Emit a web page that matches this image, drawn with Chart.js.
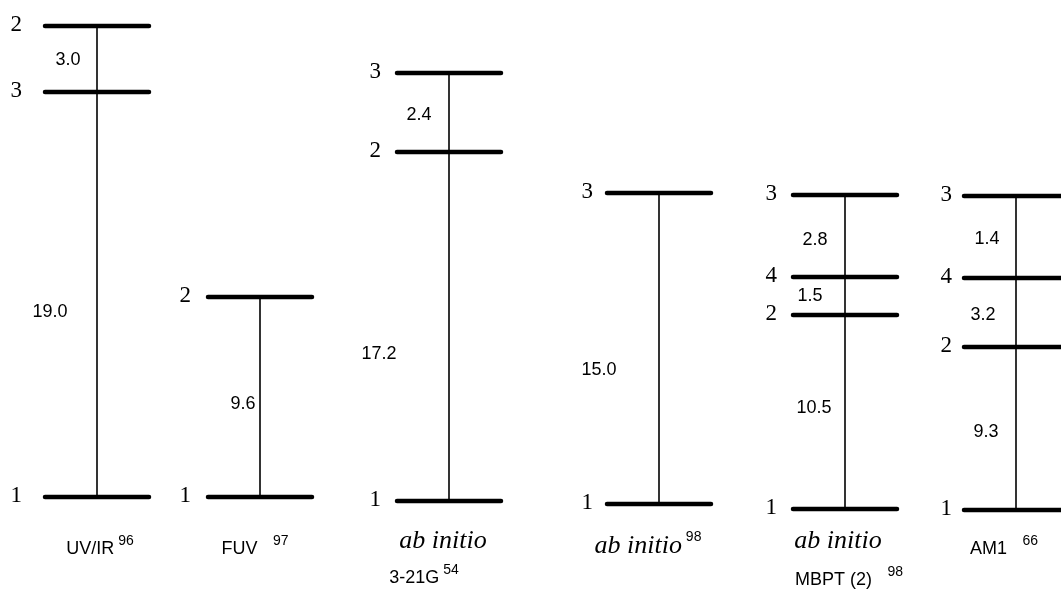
<!DOCTYPE html>
<html lang="en">
<head>
    <meta charset="UTF-8">
    <title>Energy levels</title>
    <style>
        body { margin: 0; padding: 0; background: #fff; }
        .wrap { width: 1061px; height: 594px; position: relative; }
    </style>
    <script src="https://cdn.jsdelivr.net/npm/chart.js"></script>
</head>
<body>
    <div class="wrap"><canvas id="levels"></canvas></div>

    <script>
        // data (heights are diagram units, bottom to top)
        const methods = ['UV/IR', 'FUV', 'ab initio 3-21G', 'ab initio', 'ab initio MBPT (2)', 'AM1'];
        const refs = ['96', '97', '54', '98', '98', '66'];
        const levelStates = [[1, 3, 2], [1, 2], [1, 2, 3], [1, 3], [1, 2, 4, 3], [1, 2, 4, 3]];
        const levelHeights = [
            [4.90, 25.35, 28.69],
            [4.90, 15.00],
            [4.70, 22.32, 26.31],
            [4.55, 20.25],
            [4.29, 14.09, 16.01, 20.15],
            [4.24, 12.47, 15.96, 20.10]
        ];
        const gapValues = [['19.0', '3.0'], ['9.6'], ['17.2', '2.4'], ['15.0'], ['10.5', '1.5', '2.8'], ['9.3', '3.2', '1.4']];

        // layout only
        const colCenter = [97, 260, 449, 659, 845, 1016];
        const halfWidth = 52;
        const numGap = [23, 17, 16, 14, 16, 12];
        const gapDx = [[-47, -29], [-17], [-70, -30], [-60], [-31, -35, -30], [-30, -33, -29]];
        const gapDy = [[18, 1], [7], [28, 2], [22], [-4, 0, 4], [3, 2, 2]];

        const SERIF = '"Liberation Serif", "DejaVu Serif", serif';
        const SANS = '"Liberation Sans", Arial, sans-serif';

        const datasets = [];
        levelHeights.forEach((col, i) => {
            const c = colCenter[i];
            datasets.push({
                data: [{ x: c, y: col[0] }, { x: c, y: col[col.length - 1] }],
                borderWidth: 1.6
            });
            col.forEach(h => {
                datasets.push({
                    data: [{ x: c - halfWidth, y: h }, { x: c + halfWidth, y: h }],
                    borderWidth: 4.5,
                    borderCapStyle: 'round'
                });
            });
        });
        datasets.forEach(d => {
            d.showLine = true;
            d.pointRadius = 0;
            d.borderColor = '#000';
            d.fill = false;
        });

        function drawParts(ctx, parts, cx, y) {
            let w = 0;
            parts.forEach(p => { ctx.font = p.font; w += ctx.measureText(p.text).width; });
            let x = cx - w / 2;
            parts.forEach(p => {
                ctx.font = p.font;
                ctx.fillText(p.text, x, y + (p.dy || 0));
                x += ctx.measureText(p.text).width;
            });
        }

        const textPlugin = {
            id: 'levelText',
            afterDatasetsDraw(chart) {
                const ctx = chart.ctx;
                const xs = chart.scales.x, ys = chart.scales.y;
                ctx.save();
                ctx.fillStyle = '#000';
                ctx.textBaseline = 'middle';

                levelHeights.forEach((col, i) => {
                    const left = xs.getPixelForValue(colCenter[i] - halfWidth);
                    // state numbers
                    ctx.font = '23px ' + SERIF;
                    ctx.textAlign = 'right';
                    col.forEach((h, j) => {
                        ctx.fillText(String(levelStates[i][j]), left - numGap[i], ys.getPixelForValue(h) - 1);
                    });
                    // gaps
                    ctx.font = '18px ' + SANS;
                    ctx.textAlign = 'center';
                    gapValues[i].forEach((g, j) => {
                        const mid = (ys.getPixelForValue(col[j]) + ys.getPixelForValue(col[j + 1])) / 2;
                        ctx.fillText(g, xs.getPixelForValue(colCenter[i]) + gapDx[i][j], mid + gapDy[i][j]);
                    });
                });

                // method names under each column
                ctx.textAlign = 'left';
                const sans = '18px ' + SANS, sup = '14px ' + SANS, ital = 'italic 26px ' + SERIF;
                drawParts(ctx, [{ text: 'UV/IR', font: sans }, { text: ' ' + refs[0], font: sup, dy: -8 }], 100, 549);
                drawParts(ctx, [{ text: 'FUV', font: sans }, { text: '    ' + refs[1], font: sup, dy: -8 }], 255, 549);
                drawParts(ctx, [{ text: 'ab initio', font: ital }], 443, 541);
                drawParts(ctx, [{ text: '3-21G', font: sans }, { text: ' ' + refs[2], font: sup, dy: -8 }], 424, 578);
                drawParts(ctx, [{ text: 'ab initio', font: ital }, { text: ' ' + refs[3], font: sup, dy: -9 }], 648, 546);
                drawParts(ctx, [{ text: 'ab initio', font: ital }], 838, 541);
                drawParts(ctx, [{ text: 'MBPT (2)', font: sans }, { text: '    ' + refs[4], font: sup, dy: -8 }], 849, 580);
                drawParts(ctx, [{ text: 'AM1', font: sans }, { text: '    ' + refs[5], font: sup, dy: -8 }], 1004, 549);
                ctx.restore();
            }
        };

        new Chart(document.getElementById('levels'), {
            type: 'scatter',
            data: { datasets: datasets },
            options: {
                responsive: true,
                maintainAspectRatio: false,
                animation: false,
                layout: { padding: 0 },
                plugins: { legend: { display: false }, tooltip: { enabled: false } },
                scales: {
                    x: { type: 'linear', min: 0, max: 1061, display: false },
                    y: { type: 'linear', min: 0, max: 30, display: false }
                }
            },
            plugins: [textPlugin]
        });
    </script>
</body>
</html>
